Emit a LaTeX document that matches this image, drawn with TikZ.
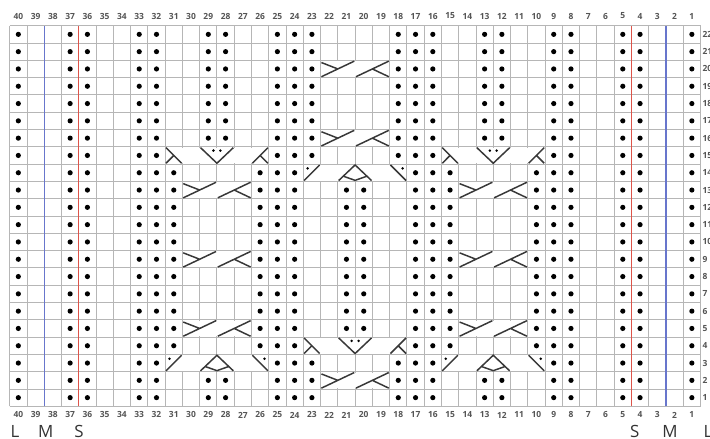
\documentclass[tikz,border=0pt]{standalone}
\usepackage{fontspec}
\usetikzlibrary{positioning}
\newfontfamily\chartfont{Open Sans}

\definecolor{gridline}{RGB}{182,182,182}
\definecolor{numtext}{RGB}{85,85,85}
\definecolor{sizered}{RGB}{221,84,74}
\definecolor{sizeblue}{RGB}{104,118,204}

\tikzset{
  cable/.style={line width=1.05pt, black!78},
  colnum/.style={font=\chartfont\bfseries\fontsize{6}{6}\selectfont, text=numtext, inner sep=0pt},
  sizelabel/.style={font=\chartfont\fontsize{12}{12}\selectfont, text=black!80, inner sep=0pt},
}

% purl stitch: column #1, row #2
\newcommand{\purldot}[2]{\fill ({40.5-#1},{#2-0.5}) circle (0.15);}
% four-stitch crossing starting at column #1, row #2
\newcommand{\crossfour}[2]{%
  \begin{scope}[shift={({40-#1},{#2-1})}]
    \fill[white] (0.05,0.05) rectangle (3.95,0.95);
    \draw[cable] (0.05,0.05) -- (1.95,0.95) (0.05,0.87) -- (1,0.5);
    \draw[cable] (2.05,0.05) -- (3.95,0.95) (3,0.5) -- (3.95,0.05);
  \end{scope}}
% six-stitch split (knits move apart)
\newcommand{\splitsix}[2]{%
  \begin{scope}[shift={({40-#1},{#2-1})}]
    \fill[white] (0.05,0.05) rectangle (5.95,0.95);
    \draw[cable] (0.05,0.95) -- (0.95,0.05) (0.05,0.05) -- (0.5,0.5);
    \draw[cable] (2.05,0.95) -- (3,0.05) -- (3.95,0.95);
    \fill (2.8,0.78) circle (0.08) (3.2,0.78) circle (0.08);
    \draw[cable] (5.05,0.05) -- (5.95,0.95) (5.5,0.5) -- (5.95,0.05);
  \end{scope}}
% six-stitch join (knits move together)
\newcommand{\joinsix}[2]{%
  \begin{scope}[shift={({40-#1},{#2-1})}]
    \fill[white] (0.05,0.05) rectangle (5.95,0.95);
    \draw[cable] (0.05,0.05) -- (0.95,0.95);
    \fill (0.25,0.75) circle (0.08);
    \draw[cable] (2.05,0.05) -- (3,0.95) -- (3.95,0.05);
    \draw[cable] (2.32,0.3) -- (3,0.06) -- (3.68,0.3);
    \draw[cable] (5.05,0.95) -- (5.95,0.05);
    \fill (5.75,0.75) circle (0.08);
  \end{scope}}

\begin{document}
\begin{tikzpicture}[x=0.43175cm, y=0.4325cm]
  \useasboundingbox (-0.5617,-1.890) rectangle (40.55,23.486);
  \fill[white] (-0.5617,-1.890) rectangle (40.55,23.486);

  % Grid
  \foreach \i in {0,...,40} {\draw[gridline, line width=0.65pt] (\i,0) -- (\i,22);}
  \foreach \j in {0,...,22} {\draw[gridline, line width=0.65pt] (0,\j) -- (40,\j);}

  % Purl stitches, all rows
  \foreach \c in {40,37,36,33,32,9,8,5,4,1} {
    \foreach \r in {1,...,22} {\purldot{\c}{\r}}
  }
  % plain panels
  \foreach \r in {1,2,16,17,18,19,20,21,22} {
    \foreach \c in {29,28,25,24,23,18,17,16,13,12} {\purldot{\c}{\r}}
  }
  \foreach \r in {3,15} {
    \foreach \c in {25,24,23,18,17,16} {\purldot{\c}{\r}}
  }
  \foreach \r in {4,14} {
    \foreach \c in {31,26,25,24,17,16,15,10} {\purldot{\c}{\r}}
  }
  \foreach \r in {5,...,13} {
    \foreach \c in {31,26,25,24,21,20,17,16,15,10} {\purldot{\c}{\r}}
  }

  % Cables
  \foreach \r in {2,16,20} {\crossfour{22}{\r}}
  \foreach \r in {5,9,13} {\crossfour{30}{\r} \crossfour{14}{\r}}
  \joinsix{31}{3} \joinsix{15}{3}
  \splitsix{23}{4}
  \joinsix{23}{14}
  \splitsix{31}{15} \splitsix{15}{15}

  % Size lines
  \draw[sizeblue, line width=1pt] (2,0) -- (2,22);
  \draw[sizeblue, line width=1pt] (38,0) -- (38,22);
  \draw[sizered, line width=1pt] (4,0) -- (4,22);
  \draw[sizered, line width=1pt] (36,0) -- (36,22);

  % Numbers
  \foreach \c in {1,...,40} {
    \node[colnum] (top\c) at ({40.5-\c},22.56) {\c};
    \node[colnum] (bot\c) at ({40.5-\c},-0.5) {\c};
  }
  \foreach \r in {1,...,22} {
    \node[colnum, anchor=west] (row\r) at (40.1,{\r-0.5}) {\r};
  }

  % Sizes
  \node[sizelabel] (sizeLa) at (0.31,-1.43) {L};
  \node[sizelabel] (sizeMa) at (2.09,-1.43) {M};
  \node[sizelabel] (sizeSa) at (4.01,-1.43) {S};
  \node[sizelabel] (sizeSb) at (36.2,-1.43) {S};
  \node[sizelabel] (sizeMb) at (38.23,-1.43) {M};
  \node[sizelabel, anchor=west] (sizeLb) at (40.16,-1.43) {L};
\end{tikzpicture}
\end{document}
